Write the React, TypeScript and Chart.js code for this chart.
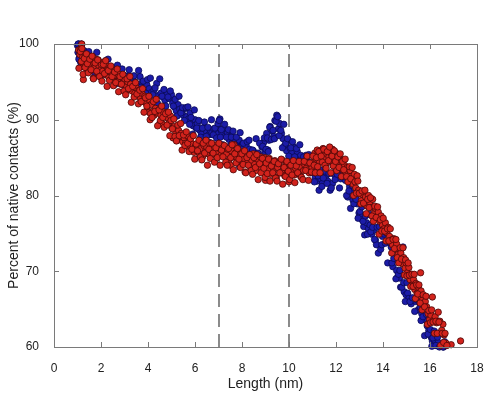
import React, { useEffect, useRef } from "react";
import { Chart, registerables } from "chart.js";

Chart.register(...registerables);

const xTicks = [0, 2, 4, 6, 8, 10, 12, 14, 16, 18];
const yTicks = [60, 70, 80, 90, 100];
const dashedAt = [7, 10];
const xTitle = "Length (nm)";
const yTitle = "Percent of native contacts (%)";

const blueSeries: number[][] = [
  [1.00,99.8],[1.02,98.9],[1.05,100.0],[1.07,99.3],[1.08,98.2],[1.10,99.6],[1.12,97.7],[1.15,98.6],[1.18,99.9],[1.20,97.4],[1.25,98.1],[1.30,97.6],[1.38,98.4],[1.45,97.2],[1.52,98.0],
  [1.60,97.5],[1.70,97.9],[1.78,96.9],[1.85,97.6],[1.95,97.1],[2.05,96.8],[2.15,97.3],[2.25,96.4],[2.35,96.9],[2.45,96.1],[2.55,96.6],[2.65,95.9],[2.75,96.3],[2.85,95.6],[2.95,95.9],
  [3.05,95.5],[3.15,95.8],[3.25,95.1],[3.35,95.4],[3.45,95.0],[3.55,94.6],[3.66,95.7],[3.75,94.9],[3.85,94.3],[3.95,94.6],
  [4.05,94.1],[4.15,93.6],[4.25,93.9],[4.37,94.8],[4.45,93.2],[4.55,93.5],[4.64,93.0],[4.72,92.6],[4.80,93.3],[4.90,92.8],[5.00,93.3],[5.05,92.2],
  [5.12,91.7],[5.20,91.2],[5.28,92.0],[5.35,91.4],[5.43,91.1],[5.50,90.6],[5.58,91.5],[5.65,90.4],[5.72,90.1],[5.79,90.9],[5.85,89.6],[5.92,89.2],[6.00,90.0],
  [6.05,88.9],[6.10,89.5],[6.20,88.6],[6.28,88.1],[6.35,88.9],[6.42,87.7],[6.50,88.4],[6.58,88.0],[6.65,88.6],[6.72,88.3],[6.80,88.8],[6.88,88.4],[6.95,89.0],[7.00,88.2],[7.06,90.1],
  [7.10,88.7],[7.15,88.3],[7.22,88.9],[7.30,87.9],[7.38,88.3],[7.45,87.4],[7.50,87.8],[7.58,86.9],[7.65,87.6],[7.72,87.1],[7.80,86.6],[7.88,87.3],[7.90,83.8],[7.95,86.4],
  [8.02,86.8],[8.10,86.0],[8.18,86.5],[8.25,85.6],[8.32,86.1],[8.40,85.3],[8.48,85.9],[8.55,85.1],[8.62,84.6],[8.70,85.5],[8.78,84.9],[8.85,86.4],[8.92,87.0],[8.98,85.8],
  [9.05,88.2],[9.10,86.0],[9.15,87.3],[9.20,89.1],[9.28,88.5],[9.35,87.8],[9.40,89.9],[9.48,90.6],[9.55,88.8],[9.60,89.5],[9.68,88.2],[9.75,87.5],[9.82,86.6],[9.90,85.9],[9.97,87.3],
  [10.05,86.2],[10.12,85.6],[10.20,86.4],[10.28,85.1],[10.35,85.8],[10.42,84.7],[10.50,85.3],[10.58,84.2],[10.65,83.8],[10.72,85.3],[10.80,84.5],[10.88,83.4],[10.95,84.0],
  [11.05,83.2],[11.12,82.4],[11.20,81.9],[11.28,80.7],[11.35,82.2],[11.42,81.6],[11.50,83.0],[11.58,82.6],[11.65,81.9],[11.75,80.7],[11.85,81.6],[11.92,82.8],
  [12.00,83.4],[12.10,82.9],[12.20,82.2],[12.30,82.8],[12.40,82.0],[12.50,79.8],[12.58,81.2],[12.65,80.4],[12.72,79.4],[12.80,79.8],[12.90,78.9],[12.98,77.7],
  [13.05,77.4],[13.12,76.8],[13.18,75.9],[13.22,74.8],[13.30,76.4],[13.38,75.6],[13.45,76.1],[13.52,74.9],[13.60,75.4],[13.68,74.1],[13.72,73.5],[13.80,72.4],[13.90,72.9],[13.98,74.6],
  [14.05,74.9],[14.15,75.1],[14.25,73.9],[14.35,73.2],[14.42,70.6],[14.50,71.5],[14.58,70.1],[14.62,69.2],[14.70,69.1],[14.75,67.9],[14.85,73.2],[14.90,67.3],[14.98,66.9],
  [15.05,67.1],[15.10,66.4],[15.20,65.7],[15.30,66.2],[15.40,66.0],[15.50,64.9],[15.58,65.3],[15.65,64.4],[15.72,63.9],[15.80,63.6],[15.88,62.8],[15.95,62.2],
  [16.00,61.8],[16.05,61.3],[16.10,60.8],[16.15,60.4],[16.20,60.9],[16.28,60.2],[16.35,60.6],[16.42,60.1],[16.50,60.3],[16.58,60.0],[16.65,60.2],
  [1.03,100.0],[1.06,98.0],[1.09,99.0],[1.13,97.0],[1.16,100.0],[1.22,98.2],[1.28,99.1],[1.34,97.0],[1.42,98.2],[1.48,99.0],[1.56,97.2],[1.65,98.3],[1.74,96.1],[1.82,98.9],[1.90,96.8],[1.98,97.5],
  [2.10,96.0],[2.20,97.8],[2.30,98.0],[2.40,95.8],[2.50,96.8],[2.60,94.7],[2.70,97.2],[2.80,95.7],[2.90,96.7],
  [3.00,94.5],[3.10,95.7],[3.20,96.6],[3.30,94.7],[3.40,95.8],[3.50,93.7],[3.60,96.5],[3.70,94.3],[3.80,95.1],[3.90,93.5],[3.98,95.3],
  [4.10,95.5],[4.20,93.3],[4.30,94.2],[4.40,92.2],[4.50,95.4],[4.60,93.1],[4.68,94.0],[4.76,91.8],[4.85,93.0],[4.95,93.8],
  [5.08,91.8],[5.16,92.7],[5.24,90.5],[5.32,93.1],[5.40,90.9],[5.47,91.6],[5.55,89.9],[5.62,91.6],[5.70,91.7],[5.77,89.4],[5.83,90.3],[5.90,88.1],[5.97,91.3],
  [6.08,88.9],[6.16,89.9],[6.24,87.7],[6.32,88.9],[6.40,89.7],[6.48,87.8],[6.55,89.0],[6.62,87.0],[6.70,90.0],[6.78,88.0],[6.85,88.9],[6.92,87.6],[6.98,89.5],[7.03,89.9],
  [7.08,87.7],[7.12,88.7],[7.18,86.7],[7.26,89.4],[7.34,87.7],[7.42,88.7],[7.48,86.5],[7.55,87.7],[7.62,88.5],[7.70,86.7],[7.76,87.7],[7.84,85.5],[7.92,88.3],[7.98,86.1],
  [8.06,86.9],[8.14,85.3],[8.22,87.1],[8.30,87.3],[8.38,85.0],[8.45,86.0],[8.52,84.0],[8.60,87.5],[8.68,85.6],[8.75,86.9],[8.82,85.0],[8.88,86.5],[8.95,87.6],
  [9.02,86.1],[9.08,87.6],[9.12,85.8],[9.18,89.0],[9.25,87.4],[9.32,88.6],[9.38,87.5],[9.45,89.8],[9.52,90.4],[9.58,87.9],[9.65,88.6],[9.72,86.3],[9.78,89.4],[9.86,86.9],[9.94,87.5],[9.99,85.2],
  [10.08,86.3],[10.15,87.1],[10.24,85.1],[10.32,86.2],[10.40,84.0],[10.46,86.7],[10.55,84.5],[10.62,85.1],[10.70,83.5],[10.76,85.2],[10.84,85.4],[10.92,83.0],[10.99,83.9],
  [11.08,81.8],[11.16,84.9],[11.24,82.6],[11.32,83.4],[11.40,81.2],[11.46,82.3],[11.55,83.2],[11.62,81.6],[11.70,82.9],[11.80,81.0],[11.88,84.0],[11.96,82.1],
  [12.05,82.8],[12.15,81.0],[12.25,82.5],[12.35,82.5],[12.45,80.0],[12.55,80.6],[12.62,78.3],[12.70,81.3],[12.76,78.9],[12.85,79.5],[12.94,77.0],
  [13.02,77.9],[13.10,78.5],[13.15,76.6],[13.25,77.3],[13.34,74.9],[13.42,77.5],[13.48,75.2],[13.56,75.8],[13.64,74.2],[13.75,75.8],[13.85,75.9],[13.95,73.5],
  [14.10,73.7],[14.20,71.1],[14.30,73.8],[14.38,71.1],[14.46,71.7],[14.55,69.0],[14.66,69.6],[14.72,70.1],[14.80,67.9],[14.88,68.5],[14.95,66.0],
  [15.02,68.5],[15.15,66.0],[15.25,66.5],[15.35,64.7],[15.45,66.2],[15.55,66.1],[15.62,63.5],[15.70,64.0],[15.77,61.5],[15.85,64.3],[15.92,61.7],
  [16.02,62.3],[16.08,60.1],[16.12,61.2],[16.18,62.1],[16.25,60.2],[16.32,61.3],[16.40,60.0],[16.48,61.9],[16.55,60.0],[16.62,60.7]
];

const redSeries: number[][] = [
  [1.05,99.2],[1.10,98.6],[1.15,99.4],[1.18,100.0],[1.20,97.6],[1.22,98.3],[1.25,95.3],[1.27,97.0],[1.30,97.9],[1.33,98.5],[1.36,97.3],[1.40,96.8],[1.43,98.1],[1.47,97.6],[1.50,98.4],
  [1.53,97.1],[1.57,96.5],[1.60,97.8],[1.63,98.3],[1.67,95.5],[1.70,97.4],[1.73,96.8],[1.77,98.0],[1.80,97.5],[1.84,96.3],[1.88,97.9],[1.92,97.0],[1.96,95.7],[1.98,96.6],
  [2.02,97.3],[2.07,96.4],[2.12,97.6],[2.17,96.0],[2.22,97.1],[2.28,96.6],[2.33,95.6],[2.38,96.9],[2.44,96.2],[2.50,95.4],[2.55,96.5],[2.60,95.9],[2.66,95.0],[2.72,96.1],[2.78,95.3],[2.84,94.7],[2.90,95.6],[2.96,94.9],
  [3.02,95.3],[3.08,94.4],[3.14,95.0],[3.20,94.0],[3.26,94.7],[3.32,93.8],[3.38,94.4],[3.44,93.5],[3.50,94.2],[3.56,93.2],[3.62,93.9],[3.68,92.8],[3.74,93.5],[3.80,92.4],[3.86,93.1],[3.92,92.2],[3.97,91.3],
  [4.02,92.7],[4.06,91.0],[4.09,90.0],[4.14,92.0],[4.20,91.1],[4.26,90.6],[4.32,91.5],[4.38,90.9],[4.44,91.2],[4.50,89.5],[4.55,90.6],[4.60,89.5],[4.66,91.0],[4.72,90.4],[4.78,90.9],[4.84,90.2],[4.90,89.6],[4.96,90.5],
  [5.02,88.9],[5.07,87.6],[5.12,89.1],[5.18,88.4],[5.24,87.3],[5.30,88.6],[5.36,87.8],[5.42,88.2],[5.48,87.1],[5.54,87.6],[5.60,86.9],[5.66,87.9],[5.72,86.4],[5.78,87.2],[5.84,86.0],[5.90,86.8],[5.96,85.7],
  [6.02,86.5],[6.08,85.9],[6.14,86.8],[6.20,85.4],[6.26,86.2],[6.32,85.1],[6.38,86.6],[6.44,85.8],[6.50,86.4],[6.56,85.5],[6.62,86.9],[6.68,86.0],[6.74,85.4],[6.80,86.3],[6.86,85.7],[6.92,86.7],[6.98,85.6],
  [7.04,86.2],[7.10,85.3],[7.16,86.6],[7.22,85.8],[7.28,86.4],[7.34,85.5],[7.40,86.1],[7.45,84.7],[7.50,84.0],[7.55,85.9],[7.60,85.1],[7.66,86.7],[7.72,85.6],[7.78,85.0],[7.84,86.0],[7.90,85.4],[7.96,84.6],
  [8.02,85.7],[8.08,84.9],[8.13,83.1],[8.18,85.4],[8.24,84.3],[8.30,85.2],[8.36,83.8],[8.42,84.6],[8.48,85.5],[8.54,84.1],[8.60,83.3],[8.66,84.8],[8.72,84.0],[8.78,85.1],[8.84,83.6],[8.90,84.4],[8.96,85.0],
  [9.00,82.0],[9.05,84.2],[9.10,83.5],[9.16,84.9],[9.22,82.8],[9.28,84.0],[9.34,83.2],[9.40,84.6],[9.46,82.4],[9.52,83.7],[9.58,84.3],[9.64,83.0],[9.70,84.7],[9.76,83.4],[9.82,82.6],[9.88,84.1],[9.94,83.3],
  [10.00,81.8],[10.05,84.0],[10.10,83.1],[10.16,84.5],[10.22,82.7],[10.28,83.6],[10.34,84.2],[10.40,82.9],[10.46,83.8],[10.50,82.5],[10.56,84.4],[10.62,83.3],[10.68,84.0],[10.74,83.6],[10.80,84.3],[10.86,83.0],[10.92,84.1],[10.98,83.7],
  [11.04,84.4],[11.10,85.6],[11.15,84.8],[11.20,86.0],[11.25,85.2],[11.30,84.5],[11.35,85.9],[11.40,85.4],[11.45,86.2],[11.50,84.9],[11.55,85.6],[11.60,84.3],[11.65,85.8],[11.70,85.1],[11.75,84.6],[11.80,85.5],[11.85,86.1],[11.90,84.9],[11.95,85.7],
  [12.00,84.8],[12.05,85.5],[12.10,84.2],[12.15,85.0],[12.20,83.8],[12.25,84.6],[12.30,83.4],[12.36,84.0],[12.42,83.1],[12.48,83.7],[12.54,82.6],[12.60,83.3],[12.66,82.2],[12.72,81.5],[12.78,82.8],[12.84,81.0],[12.90,82.6],[12.96,80.7],
  [13.02,80.2],[13.08,79.3],[13.14,80.1],[13.20,78.9],[13.26,79.8],[13.32,78.6],[13.38,80.0],[13.44,79.1],[13.50,78.4],[13.56,79.5],[13.62,77.6],[13.68,78.3],[13.74,77.0],[13.80,77.8],[13.86,76.6],[13.92,77.3],[13.98,76.1],
  [14.04,75.6],[14.10,76.4],[14.16,75.1],[14.22,75.8],[14.28,74.6],[14.34,74.1],[14.40,73.5],[14.46,74.3],[14.52,72.9],[14.58,73.6],[14.64,72.2],[14.70,71.6],[14.76,72.4],[14.82,71.0],[14.88,71.8],[14.94,70.4],[14.98,71.1],
  [15.04,69.8],[15.10,70.5],[15.15,68.9],[15.20,69.6],[15.25,68.2],[15.30,68.9],[15.35,67.6],[15.40,68.4],[15.45,67.1],[15.50,67.9],[15.55,66.8],[15.60,69.8],[15.62,67.4],[15.68,66.2],[15.74,65.5],[15.80,66.0],[15.86,65.3],[15.92,64.4],[15.98,63.6],
  [16.04,64.2],[16.10,66.6],[16.15,63.5],[16.22,64.0],[16.28,63.2],[16.35,64.6],[16.42,63.4],[16.50,62.2],[16.55,63.0],[16.60,61.6],[16.68,60.5],[16.90,60.3],[17.30,60.8],
  [1.06,96.8],[1.12,99.0],[1.16,97.7],[1.19,99.4],[1.24,96.0],[1.29,98.1],[1.32,96.9],[1.38,98.7],[1.42,97.4],[1.46,96.2],[1.52,98.0],[1.58,96.6],[1.62,98.4],[1.68,95.4],[1.75,97.5],[1.82,96.4],[1.86,97.9],[1.94,95.7],
  [2.04,95.1],[2.10,97.3],[2.15,96.1],[2.20,97.8],[2.26,94.4],[2.31,96.5],[2.36,95.2],[2.42,97.1],[2.47,95.7],[2.53,94.5],[2.58,96.3],[2.63,94.9],[2.69,96.7],[2.75,93.7],[2.81,95.7],[2.87,94.7],[2.93,96.0],[2.98,93.8],
  [3.05,93.3],[3.11,95.4],[3.17,94.1],[3.23,95.7],[3.29,92.3],[3.35,94.4],[3.41,93.0],[3.47,94.9],[3.53,93.4],[3.59,92.1],[3.65,93.9],[3.71,92.4],[3.77,94.1],[3.83,91.0],[3.89,92.9],[3.95,91.8],
  [4.04,93.1],[4.11,90.8],[4.17,90.3],[4.23,92.4],[4.29,91.1],[4.35,92.7],[4.41,89.2],[4.47,91.3],[4.53,89.9],[4.58,91.8],[4.63,90.3],[4.69,89.0],[4.75,90.8],[4.81,89.3],[4.87,91.0],[4.93,87.9],[4.98,89.9],
  [5.04,88.8],[5.10,90.1],[5.15,87.8],[5.21,87.2],[5.27,89.3],[5.33,87.9],[5.39,89.5],[5.45,86.0],[5.51,88.0],[5.57,86.6],[5.63,88.4],[5.69,86.9],[5.75,85.8],[5.81,87.5],[5.87,86.1],[5.93,87.9],[5.99,84.8],
  [6.05,86.8],[6.11,85.9],[6.17,87.3],[6.23,85.1],[6.29,84.7],[6.35,86.9],[6.41,85.6],[6.47,87.3],[6.53,84.0],[6.59,86.1],[6.65,84.9],[6.71,86.9],[6.77,85.6],[6.83,84.4],[6.89,86.3],[6.95,85.0],
  [7.02,86.9],[7.07,84.0],[7.13,86.0],[7.19,85.1],[7.25,86.6],[7.31,84.4],[7.37,84.0],[7.43,86.2],[7.52,85.0],[7.58,86.7],[7.63,83.4],[7.69,85.5],[7.75,84.3],[7.81,86.2],[7.87,84.8],[7.93,83.7],[7.99,85.5],
  [8.05,84.1],[8.11,85.9],[8.16,83.0],[8.21,85.0],[8.27,84.0],[8.33,85.4],[8.39,83.3],[8.45,82.8],[8.51,85.0],[8.57,83.7],[8.63,85.4],[8.69,82.1],[8.75,84.2],[8.81,83.0],[8.87,84.9],[8.93,83.6],[8.98,82.4],
  [9.03,84.3],[9.08,82.9],[9.13,84.8],[9.19,81.9],[9.25,83.9],[9.31,83.0],[9.37,84.5],[9.43,82.3],[9.49,81.9],[9.55,84.2],[9.61,83.0],[9.67,84.8],[9.73,81.5],[9.79,83.7],[9.85,82.5],[9.91,84.5],[9.97,83.2],
  [10.03,82.1],[10.08,84.0],[10.13,82.7],[10.19,84.6],[10.25,81.7],[10.31,83.9],[10.37,83.0],[10.43,84.5],[10.53,82.4],[10.59,82.1],[10.65,84.5],[10.71,83.3],[10.77,85.2],[10.83,82.0],[10.89,84.3],[10.95,83.1],
  [11.02,85.2],[11.07,84.0],[11.12,83.0],[11.17,85.0],[11.22,83.8],[11.27,85.8],[11.32,83.0],[11.37,85.2],[11.42,84.4],[11.48,86.1],[11.53,84.0],[11.58,83.6],[11.63,85.8],[11.68,84.6],[11.73,86.4],[11.78,83.0],[11.83,85.2],[11.88,83.9],[11.93,85.9],[11.98,84.5],
  [12.03,83.3],[12.08,85.1],[12.13,83.7],[12.18,85.5],[12.23,82.5],[12.28,84.5],[12.33,83.4],[12.39,84.8],[12.45,82.5],[12.51,81.8],[12.57,83.8],[12.63,82.2],[12.69,83.7],[12.75,80.0],[12.81,81.8],[12.87,80.3],[12.93,81.9],[12.99,80.3],
  [13.05,78.9],[13.11,80.6],[13.17,79.0],[13.23,80.7],[13.29,77.6],[13.35,79.5],[13.41,78.4],[13.47,79.7],[13.53,77.3],[13.59,76.6],[13.65,78.6],[13.71,77.1],[13.77,78.5],[13.83,74.9],[13.89,76.8],[13.95,75.3],
  [14.01,77.0],[14.07,75.3],[14.13,74.0],[14.19,75.6],[14.25,74.0],[14.31,75.6],[14.37,72.4],[14.43,74.2],[14.49,73.0],[14.55,74.2],[14.61,71.8],[14.67,71.1],[14.73,73.1],[14.79,71.6],[14.85,73.1],[14.91,69.5],[14.96,71.5],
  [15.02,69.4],[15.07,71.1],[15.12,69.5],[15.18,68.0],[15.23,69.6],[15.28,68.0],[15.33,69.6],[15.38,66.4],[15.43,68.2],[15.48,67.0],[15.53,68.2],[15.58,65.8],[15.66,64.9],[15.71,66.9],[15.77,65.3],[15.83,66.7],[15.89,63.0],[15.95,64.8],
  [16.02,63.2],[16.07,64.9],[16.13,63.3],[16.19,61.8],[16.25,63.4],[16.31,61.8],[16.38,63.3],[16.45,60.2],[16.52,61.8],[16.58,60.6],[16.64,61.8],[16.72,60.2]
];

const FONT = "'Liberation Sans', Arial, sans-serif";

const framePlugin = {
  id: "frame",
  beforeDatasetsDraw(chart: any) {
    const { ctx, chartArea: a, scales } = chart;
    const xs = scales.x;
    ctx.save();
    ctx.strokeStyle = "#6e6e6e";
    ctx.lineWidth = 1.6;
    ctx.setLineDash([13, 7]);
    for (const v of dashedAt) {
      const px = Math.round(xs.getPixelForValue(v));
      ctx.beginPath();
      ctx.moveTo(px, a.bottom);
      ctx.lineTo(px, a.top);
      ctx.stroke();
    }
    ctx.restore();
  },
  afterDraw(chart: any) {
    const { ctx, chartArea: a, scales } = chart;
    const xs = scales.x;
    const ys = scales.y;
    ctx.save();
    ctx.strokeStyle = "#7a7a7a";
    ctx.lineWidth = 1;
    ctx.strokeRect(Math.round(a.left) + 0.5, Math.round(a.top) + 0.5, Math.round(a.right - a.left), Math.round(a.bottom - a.top));
    const len = 5;
    ctx.beginPath();
    for (const v of xTicks) {
      const px = Math.round(xs.getPixelForValue(v)) + 0.5;
      ctx.moveTo(px, a.bottom);
      ctx.lineTo(px, a.bottom - len);
      ctx.moveTo(px, a.top);
      ctx.lineTo(px, a.top + len);
    }
    for (const v of yTicks) {
      const py = Math.round(ys.getPixelForValue(v)) + 0.5;
      ctx.moveTo(a.left, py);
      ctx.lineTo(a.left + len, py);
      ctx.moveTo(a.right, py);
      ctx.lineTo(a.right - len, py);
    }
    ctx.stroke();
    ctx.restore();
  },
};

export default function App() {
  const ref = useRef<HTMLCanvasElement | null>(null);
  useEffect(() => {
    document.body.style.margin = "0";
    const toPts = (arr: number[][]) => arr.map(([x, y]) => ({ x, y }));
    const chart = new Chart(ref.current as HTMLCanvasElement, {
      type: "scatter",
      data: {
        datasets: [
          {
            label: "red",
            data: toPts(redSeries),
            backgroundColor: "#d2231c",
            borderColor: "#4a0808",
            borderWidth: 0.8,
            pointRadius: 3.2,
            clip: false,
          } as any,
          {
            label: "blue",
            data: toPts(blueSeries),
            backgroundColor: "#1c1ca8",
            borderColor: "#0a0a55",
            borderWidth: 0.8,
            pointRadius: 3.2,
            clip: false,
          } as any,
        ],
      },
      options: {
        responsive: false,
        animation: false,
        layout: { padding: { left: 0, right: 22, top: 44, bottom: 0 } },
        plugins: { legend: { display: false }, tooltip: { enabled: false } },
        scales: {
          x: {
            type: "linear",
            min: 0,
            max: 18,
            afterBuildTicks: (s: any) => { s.ticks = xTicks.map((v) => ({ value: v })); },
            afterFit: (s: any) => { s.height = 48; },
            grid: { display: false },
            border: { display: false },
            ticks: { color: "#222", font: { family: FONT, size: 12 }, padding: 6, maxRotation: 0 },
            title: { display: true, text: xTitle, color: "#222", font: { family: FONT, size: 14 }, padding: { top: 0, bottom: 2 } },
          },
          y: {
            type: "linear",
            min: 60,
            max: 100,
            afterBuildTicks: (s: any) => { s.ticks = yTicks.map((v) => ({ value: v })); },
            afterFit: (s: any) => { s.width = 54; },
            grid: { display: false },
            border: { display: false },
            ticks: { color: "#222", font: { family: FONT, size: 12 }, padding: 7 },
            title: { display: true, text: yTitle, color: "#222", font: { family: FONT, size: 14 }, padding: { top: 6, bottom: 0 } },
          },
        },
      },
      plugins: [framePlugin],
    } as any);
    return () => chart.destroy();
  }, []);
  return <canvas ref={ref} width={499} height={395} style={{ display: "block" }} />;
}
